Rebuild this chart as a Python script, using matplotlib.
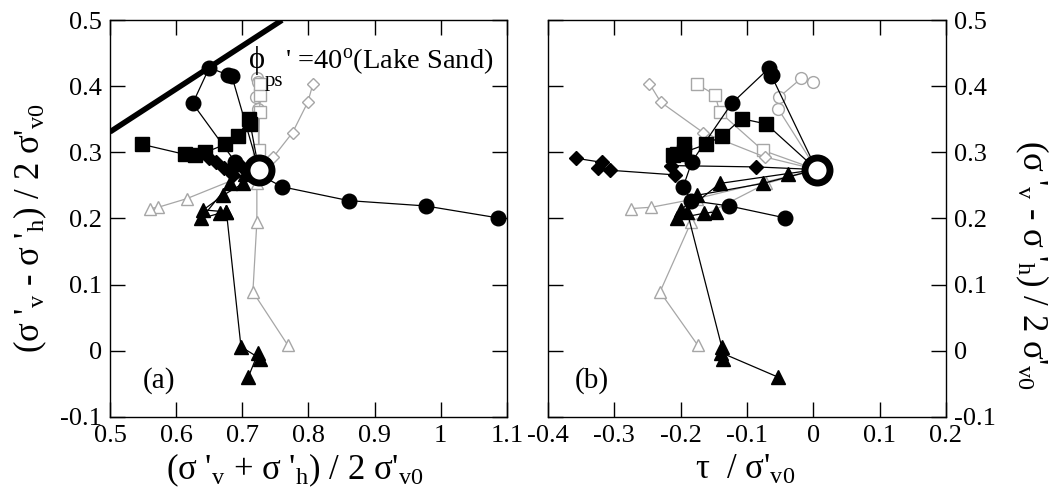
import matplotlib
matplotlib.use("Agg")
import matplotlib.pyplot as plt

plt.rcParams['font.family'] = ['Liberation Serif', 'DejaVu Serif']
plt.rcParams['mathtext.fontset'] = 'custom'
plt.rcParams['mathtext.rm'] = 'Liberation Serif'
plt.rcParams['mathtext.it'] = 'Liberation Serif'
plt.rcParams['axes.unicode_minus'] = False

# start point (isotropic consolidation state)
p0, t0, q0 = 0.725, 0.005, 0.274

# black series: p' = (s'v+s'h)/2s'v0, tau/s'v0, q = (s'v-s'h)/2s'v0
circ_p = [p0, 0.684, 0.679, 0.650, 0.625, 0.689, 0.760, 0.861, 0.977, 1.086]
circ_t = [t0, -0.063, -0.062, -0.066, -0.123, -0.183, -0.196, -0.184, -0.127, -0.043]
circ_q = [q0, 0.416, 0.417, 0.428, 0.374, 0.286, 0.248, 0.227, 0.219, 0.201]

sq_p = [p0, 0.712, 0.710, 0.694, 0.674, 0.644, 0.628, 0.613, 0.549]
sq_t = [t0, -0.071, -0.108, -0.137, -0.162, -0.195, -0.211, -0.205, -0.195]
sq_q = [q0, 0.343, 0.351, 0.325, 0.312, 0.300, 0.296, 0.297, 0.312]

dia_p = [p0, 0.700, 0.690, 0.686, 0.680, 0.672, 0.660, 0.649]
dia_t = [t0, -0.086, -0.214, -0.209, -0.307, -0.324, -0.319, -0.357]
dia_q = [q0, 0.278, 0.280, 0.266, 0.273, 0.276, 0.285, 0.291]

triA_p = [p0, 0.701, 0.671, 0.641, 0.676, 0.698, 0.727, 0.724, 0.709]
triA_t = [t0, -0.076, -0.176, -0.199, -0.190, -0.138, -0.136, -0.139, -0.053]
triA_q = [q0, 0.253, 0.235, 0.213, 0.210, 0.006, -0.012, -0.003, -0.040]

triB_p = [p0, 0.704, 0.681, 0.638, 0.666, 0.676]
triB_t = [t0, -0.038, -0.141, -0.206, -0.164, -0.146]
triB_q = [q0, 0.268, 0.253, 0.200, 0.208, 0.210]

# gray series
gc_p = [p0, 0.724, 0.720, 0.722, 0.724]
gc_t = [t0, -0.053, -0.051, -0.018, 0.000]
gc_q = [q0, 0.366, 0.384, 0.412, 0.407]

gs_p = [p0, 0.725, 0.726, 0.727, 0.727]
gs_t = [t0, -0.076, -0.141, -0.148, -0.175]
gs_q = [q0, 0.303, 0.361, 0.387, 0.403]

gd_p = [p0, 0.747, 0.776, 0.799, 0.807]
gd_t = [t0, -0.073, -0.166, -0.230, -0.247]
gd_q = [q0, 0.293, 0.330, 0.376, 0.404]

gt1_p = [p0, 0.616, 0.573, 0.560]
gt1_t = [t0, -0.176, -0.244, -0.275]
gt1_q = [q0, 0.230, 0.217, 0.215]

gt2_p = [p0, 0.722, 0.722, 0.716, 0.769]
gt2_t = [t0, -0.071, -0.184, -0.231, -0.174]
gt2_q = [q0, 0.253, 0.195, 0.089, 0.008]

# failure line phi'ps = 40 deg
fail_p = [0.5, 0.76]
fail_q = [0.331, 0.5]

left_xt = [0.5, 0.6, 0.7, 0.8, 0.9, 1.0, 1.1]
left_xl = ['0.5', '0.6', '0.7', '0.8', '0.9', '1', '1.1']
right_xt = [-0.4, -0.3, -0.2, -0.1, 0.0, 0.1, 0.2]
right_xl = ['-0.4', '-0.3', '-0.2', '-0.1', '0', '0.1', '0.2']
yt = [-0.1, 0.0, 0.1, 0.2, 0.3, 0.4, 0.5]
yl = ['-0.1', '0', '0.1', '0.2', '0.3', '0.4', '0.5']

gray = '#a6a6a6'
black_series = [
    (circ_p, circ_t, circ_q, 'o', 10.5),
    (sq_p, sq_t, sq_q, 's', 10.5),
    (dia_p, dia_t, dia_q, 'D', 7),
    (triA_p, triA_t, triA_q, '^', 10.5),
    (triB_p, triB_t, triB_q, '^', 10.5),
]
gray_series = [
    (gc_p, gc_t, gc_q, 'o', 8.5),
    (gs_p, gs_t, gs_q, 's', 8.5),
    (gd_p, gd_t, gd_q, 'D', 6),
    (gt1_p, gt1_t, gt1_q, '^', 8.5),
    (gt2_p, gt2_t, gt2_q, '^', 8.5),
]

fig = plt.figure(figsize=(10.64, 5.04), dpi=100)
ax1 = fig.add_axes([0.1034, 0.173, 0.373, 0.787])
ax2 = fig.add_axes([0.515, 0.173, 0.374, 0.787])

for ax, idx in [(ax1, 0), (ax2, 1)]:
    for s in gray_series:
        ax.plot(s[idx], s[2], color=gray, lw=0.9, marker=s[3], ms=s[4],
                mfc='white', mec=gray, mew=1.0, markevery=slice(1, None), zorder=2)
    for s in black_series:
        ax.plot(s[idx], s[2], color='black', lw=0.9, marker=s[3], ms=s[4],
                mfc='black', mec='black', markevery=slice(1, None), zorder=3)
    ax.plot([p0, t0][idx], q0, marker='o', ms=18, mfc='white', mec='black',
            mew=5, zorder=5)
    ax.set_ylim(-0.1, 0.5)
    ax.set_yticks(yt)
    ax.tick_params(direction='in', length=11, width=1, labelsize=19,
                   top=True, right=True, pad=6)
    for sp in ax.spines.values():
        sp.set_linewidth(1)

ax1.plot(fail_p, fail_q, color='black', lw=4, solid_capstyle='butt', zorder=4)
ax1.set_xlim(0.5, 1.1)
ax1.set_xticks(left_xt)
ax1.set_xticklabels(left_xl)
ax1.set_yticklabels(yl)

ax2.set_xlim(-0.4, 0.2)
ax2.set_xticks(right_xt)
ax2.set_xticklabels(right_xl)
ax2.yaxis.tick_right()
ax2.tick_params(left=True, labelleft=False, labelright=True)
ax2.set_yticklabels(yl)

ax1.text(0.722, 0.427, 'ϕ', fontsize=22, ha='center', va='baseline')
ax1.text(0.748, 0.400, 'ps', fontsize=15, ha='center', va='baseline')
ax1.text(0.764, 0.427, "' =40$^{\\mathregular{o}}$(Lake Sand)", fontsize=20.5,
         ha='left', va='baseline')
ax1.text(0.55, -0.045, '(a)', fontsize=21, va='center')
ax2.text(-0.36, -0.045, '(b)', fontsize=21, va='center')

sub = r"$_{\mathregular{%s}}$"
lab_q = "(σ '" + sub % 'v' + " - σ '" + sub % 'h' + ") / 2 σ'" + sub % 'v0'
lab_p = "(σ '" + sub % 'v' + " + σ '" + sub % 'h' + ") / 2 σ'" + sub % 'v0'
lab_t = "τ  / σ'" + sub % 'v0'
fig.text(295 / 1064, 1 - 470 / 504, lab_p, fontsize=25, ha='center', va='center')
fig.text(745 / 1064, 1 - 470 / 504, lab_t, fontsize=25, ha='center', va='center')
fig.text(30 / 1064, 0.548, lab_q, fontsize=25, ha='center', va='center', rotation=90)
fig.text(1032 / 1064, 0.474, lab_q, fontsize=25, ha='center', va='center', rotation=270)

fig.savefig('out.png', dpi=100)
